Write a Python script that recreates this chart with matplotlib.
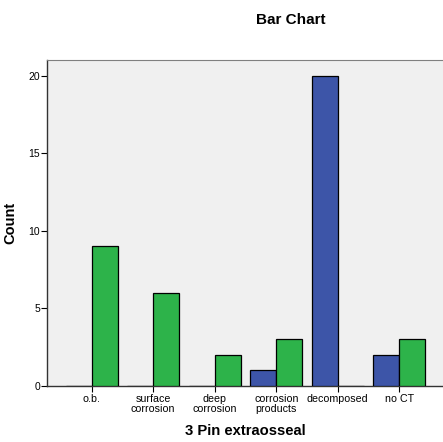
import matplotlib
matplotlib.use("Agg")
import matplotlib.pyplot as plt
from matplotlib import font_manager
import numpy as np

# Pick the regular-width Liberation Sans files explicitly (not the Narrow cut)
def find_font(fname_part):
    for f in font_manager.fontManager.ttflist:
        if f.fname.endswith(fname_part):
            return f.fname
    return None

reg_path = find_font("LiberationSans-Regular.ttf")
bold_path = find_font("LiberationSans-Bold.ttf")
plt.rcParams['font.family'] = ['Liberation Sans', 'DejaVu Sans']

def fp(size, bold=False):
    path = bold_path if bold else reg_path
    if path:
        return font_manager.FontProperties(fname=path, size=size)
    return font_manager.FontProperties(size=size, weight="bold" if bold else "normal")

categories = ["o.b.", "surface\ncorrosion", "deep\ncorrosion", "corrosion\nproducts", "decomposed", "no CT"]
blue_counts = [0, 0, 0, 1, 20, 2]
green_counts = [9, 6, 2, 3, 0, 3]
yticks = [0, 5, 10, 15, 20]

fig = plt.figure(figsize=(4.43, 4.42), dpi=100)
ax = fig.add_axes([47 / 443, 56 / 442, 397 / 443, 326 / 442])
ax.set_facecolor("#F0F0F0")

x = np.arange(len(categories))
w = 0.42
ax.bar(x - w / 2, blue_counts, width=w, color="#3D55A8", edgecolor="black", linewidth=0.9, zorder=3)
ax.bar(x + w / 2, green_counts, width=w, color="#2DB34A", edgecolor="black", linewidth=0.9, zorder=3)

ax.set_xlim(-0.727, len(categories) - 1 + 0.727)
ax.set_ylim(0, 21.03)
ax.set_yticks(yticks)
ax.set_yticklabels([str(v) for v in yticks], fontproperties=fp(7.5))
ax.set_xticks(x)
ax.set_xticklabels(categories, fontproperties=fp(7.7), linespacing=0.95)
ax.tick_params(axis='y', length=4, width=0.8, pad=1)
ax.tick_params(axis='x', length=4, width=0.8, pad=2)

for s in ["left", "bottom"]:
    ax.spines[s].set_color("#333333")
    ax.spines[s].set_linewidth(1.0)
ax.spines["top"].set_color("#808080")
ax.spines["right"].set_visible(False)

ax.set_ylabel("Count", fontproperties=fp(10.5, True), labelpad=8)
ax.set_xlabel("3 Pin extraosseal", fontproperties=fp(10.6, True), labelpad=7)
fig.text(291 / 443, 1 - 20 / 442, "Bar Chart", fontproperties=fp(11, True), ha="center", va="center")

fig.savefig("out.png", dpi=100)
